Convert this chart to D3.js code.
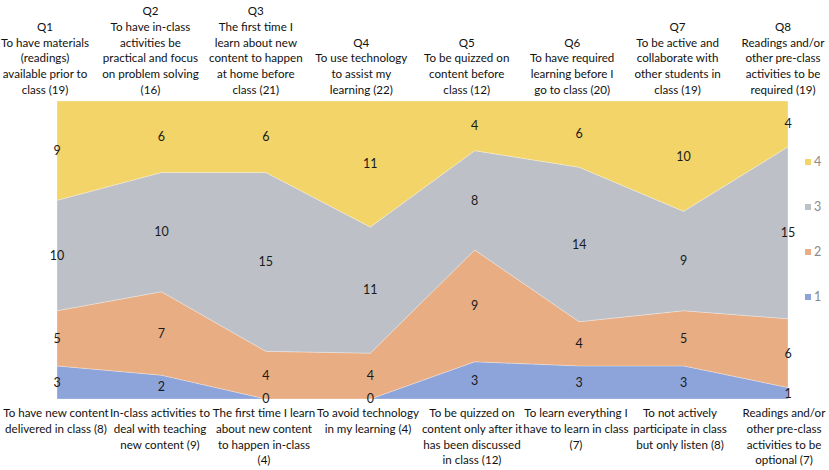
<!DOCTYPE html>
<html><head><meta charset="utf-8">
<script src="https://cdn.jsdelivr.net/npm/d3@7"></script>
<style>body{margin:0;background:#fff}svg{display:block}text{font-family:Lato,"Open Sans",sans-serif}</style>
</head><body><svg id="c" width="829" height="470"></svg>
<script>
const categories = ["Q1","Q2","Q3","Q4","Q5","Q6","Q7","Q8"];
const seriesNames = ["1","2","3","4"];
const s1 = [3,2,0,0,3,3,3,1];
const s2 = [5,7,4,4,9,4,5,6];
const s3 = [10,10,15,11,8,14,9,15];
const s4 = [9,6,6,11,4,6,10,4];
const topLabels = [
 ["Q1","To have materials","(readings)","available prior to","class (19)"],
 ["Q2","To have in-class","activities be","practical and focus","on problem solving","(16)"],
 ["Q3","The first time I","learn about new","content to happen","at home before","class (21)"],
 ["Q4","To use technology","to assist my","learning (22)"],
 ["Q5","To be quizzed on","content before","class (12)"],
 ["Q6","To have required","learning before I","go to class (20)"],
 ["Q7","To be active and","collaborate with","other students in","class (19)"],
 ["Q8","Readings and/or","other pre-class","activities to be","required (19)"]
];
const bottomLabels = [
 ["To have new content","delivered in class (8)"],
 ["In-class activities to","deal with teaching","new content (9)"],
 ["The first time I learn","about new content","to happen  in-class","(4)"],
 ["To avoid technology","in my learning (4)"],
 ["To be quizzed on","content only after it","has been discussed","in class (12)"],
 ["To learn everything I","have to learn in class","(7)"],
 ["To not actively","participate  in class","but only listen (8)"],
 ["Readings and/or","other pre-class","activities to be","optional (7)"]
];
const colors = ["#8da4da","#e8ad83","#bdc0c6","#f2d468"];

const rows = categories.map((c,i)=>({cat:c,"1":s1[i],"2":s2[i],"3":s3[i],"4":s4[i]}));
const stack = d3.stack().keys(seriesNames).offset(d3.stackOffsetExpand);
const layers = stack(rows);

const svg = d3.select("#c");
const x = d3.scalePoint().domain(categories).range([57,788]);
const y = d3.scaleLinear().domain([0,1]).range([399,101]);
const color = d3.scaleOrdinal().domain(seriesNames).range(colors);

const area = d3.area().x(d=>x(d.data.cat)).y0(d=>y(d[0])).y1(d=>y(d[1]));
svg.append("g").selectAll("path").data(layers).join("path")
  .attr("d",area).attr("fill",d=>color(d.key))
  .attr("stroke","#ffffff").attr("stroke-opacity",0.35).attr("stroke-width",0.8);

// value labels
const vl = svg.append("g").attr("font-size",12.5).attr("fill","#1a1a1a").attr("text-anchor","middle");
layers.forEach(L=>{
  L.forEach(d=>{
    vl.append("text").attr("x",x(d.data.cat)).attr("y",y((d[0]+d[1])/2)).attr("dy","0.35em")
      .text(d.data[L.key]);
  });
});

// top labels
const xt = d3.scalePoint().domain(categories).range([45,783]);
const tg = svg.append("g").attr("font-size",11.6).attr("fill","#111").attr("text-anchor","middle");
topLabels.forEach((lines,i)=>{
  const n = lines.length;
  lines.forEach((t,j)=>{
    tg.append("text").attr("x",xt(categories[i])).attr("y",94-(n-1-j)*15.8).text(t);
  });
});
// bottom labels
const bg = svg.append("g").attr("font-size",11.6).attr("fill","#111").attr("text-anchor","middle");
const xb = d3.scalePoint().domain(categories).range([56,784]);
bottomLabels.forEach((lines,i)=>{
  lines.forEach((t,j)=>{
    bg.append("text").attr("x",xb(categories[i])).attr("y",417+j*15.8).text(t);
  });
});

// legend
const lg = svg.append("g");
const ly = d3.scalePoint().domain(seriesNames.slice().reverse()).range([162,297]);
seriesNames.forEach(k=>{
  lg.append("rect").attr("x",805).attr("y",ly(k)-3).attr("width",6).attr("height",6).attr("fill",color(k));
  lg.append("text").attr("x",814).attr("y",ly(k)).attr("dy","0.35em").attr("font-size",12.5).attr("fill","#8a8a8a").text(k);
});
</script></body></html>
